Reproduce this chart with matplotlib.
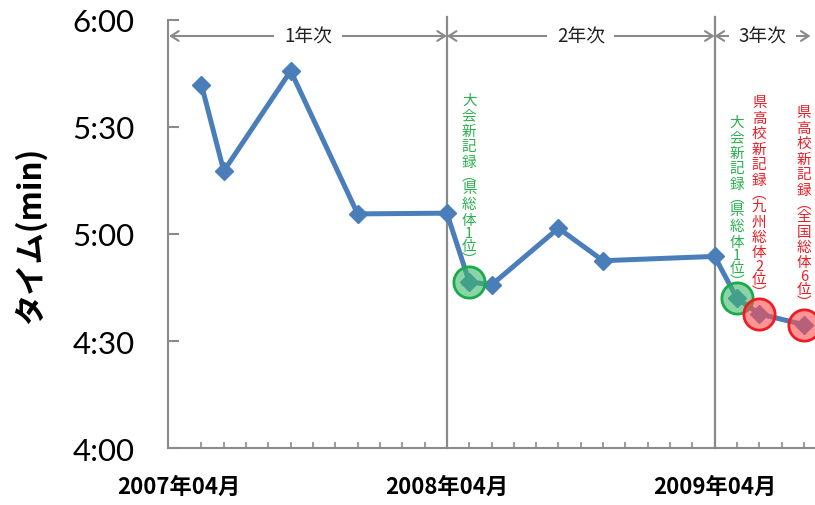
import matplotlib
matplotlib.use("Agg")
import matplotlib.pyplot as plt
from matplotlib.ticker import FuncFormatter, FixedLocator, MultipleLocator
from matplotlib.transforms import blended_transform_factory

plt.rcParams['font.family'] = ['Lato', 'Noto Sans CJK JP', 'DejaVu Sans']

# race dates (year, month) and times in seconds
dates = [(2007, 5), (2007, 6), (2007, 9), (2007, 12), (2008, 4), (2008, 5),
         (2008, 6), (2008, 9), (2008, 11), (2009, 4), (2009, 5), (2009, 6),
         (2009, 8)]
times = [341.7, 317.6, 345.6, 305.6, 305.8, 286.6, 285.7, 301.6, 292.5,
         293.7, 282.0, 277.6, 274.6]

# highlighted records: index into the series, label, colour
records = [
    (5, "大会新記録（県総体1位）", "green"),
    (10, "大会新記録（県総体1位）", "green"),
    (11, "県高校新記録（九州総体2位）", "red"),
    (12, "県高校新記録（全国総体6位）", "red"),
]
label_top = [101, 123, 103, 113]   # pixel row of the first character

year_names = ["1年次", "2年次", "3年次"]
tick_labels = ["2007年04月", "2008年04月", "2009年04月"]


def month_index(y, m):
    return (y - 2007) * 12 + (m - 4)


x = [month_index(y, m) for y, m in dates]

fig = plt.figure(figsize=(8.15, 5.06), dpi=100)
ax = fig.add_axes([168 / 815, 1 - 449.3 / 506, 1 - 168 / 815, (449.3 - 20.5) / 506])

ax.set_xlim(-0.5, 28.5)
ax.set_ylim(240, 360)

gray = "#8a8a8a"
for s in ["top", "right"]:
    ax.spines[s].set_visible(False)
for s in ["left", "bottom"]:
    ax.spines[s].set_color(gray)
    ax.spines[s].set_linewidth(1.5)

# year boundaries
for xb in [12, 24]:
    ax.axvline(xb, color=gray, lw=1.6, ymax=1.005, clip_on=False, zorder=1)

ax.plot(x, times, color="#4a7ebb", lw=3.6, marker="D", markersize=9.5, zorder=3)

styles = {
    "green": dict(edge="#1aaa4a", face=(0.24, 0.72, 0.42, 0.6), text="#2bb04f"),
    "red": dict(edge="#ee1c24", face=(1.0, 0.30, 0.30, 0.6), text="#ee1c24"),
}
vert = str.maketrans({"（": "︵", "）": "︶"})
tr = blended_transform_factory(ax.transData, ax.transAxes)


def vertical_text(xv, top_px, s, color):
    # stack the characters top to bottom, digits and brackets take less room
    y0 = 1 - (top_px - 20.5) / (449.3 - 20.5)
    off = 0.0
    prev = None
    for ch in s.translate(vert):
        h = 11.0 if ch.isdigit() or ch in "︵︶" else 15.5
        if prev is not None:
            off += (prev + h) / 2
        ax.annotate(ch, xy=(xv, y0), xycoords=tr, xytext=(0, -off),
                    textcoords="offset pixels", ha="center", va="center",
                    color=color, fontsize=10.5, annotation_clip=False,
                    family=["Noto Sans CJK JP", "DejaVu Sans"], zorder=5)
        prev = h


for (i, note, c), top in zip(records, label_top):
    st = styles[c]
    ax.plot(x[i], times[i], marker="o", markersize=22.5, markerfacecolor=st["face"],
            markeredgecolor=st["edge"], markeredgewidth=2, zorder=4, clip_on=False)
    vertical_text(x[i], top, note, st["text"])

# year spans along the top
ty = 1 - (37 - 20.5) / (449.3 - 20.5)
spans = [(-0.45, 12), (12, 24), (24, 28.3)]
for (a, b), name in zip(spans, year_names):
    ax.annotate("", xy=(a, ty), xytext=(b, ty), xycoords=tr, textcoords=tr,
                arrowprops=dict(arrowstyle="<->,head_length=0.55,head_width=0.35",
                                color=gray, lw=1.5, shrinkA=0, shrinkB=0),
                annotation_clip=False)
    ax.text((a + b) / 2, ty, name, transform=tr, ha="center", va="center",
            fontsize=13.5, color="#222222", family=["Noto Sans CJK JP"],
            bbox=dict(facecolor="white", edgecolor="none", pad=7))

ax.yaxis.set_major_locator(MultipleLocator(30))
ax.yaxis.set_major_formatter(FuncFormatter(lambda v, p: f"{int(v) // 60}:{int(v) % 60:02d}"))
ax.tick_params(axis="y", direction="in", length=8, width=1.5, color=gray,
               labelsize=22.5, pad=24)

ax.xaxis.set_major_locator(FixedLocator([0, 12, 24]))
ax.xaxis.set_minor_locator(MultipleLocator(1))
ax.set_xticklabels(tick_labels, fontweight="bold", family=["Noto Sans CJK JP"])
ax.tick_params(axis="x", which="both", direction="in", length=4, width=1.2,
               color=gray, labelsize=16, pad=19)
ax.tick_params(axis="x", which="major", length=0)

fig.text(31 / 815, 1 - 235 / 506, "タイム(min)", rotation=90, ha="center",
         va="center", fontsize=22.5, fontweight="bold",
         family=["Noto Sans CJK JP"])

fig.savefig("out.png", dpi=100)
